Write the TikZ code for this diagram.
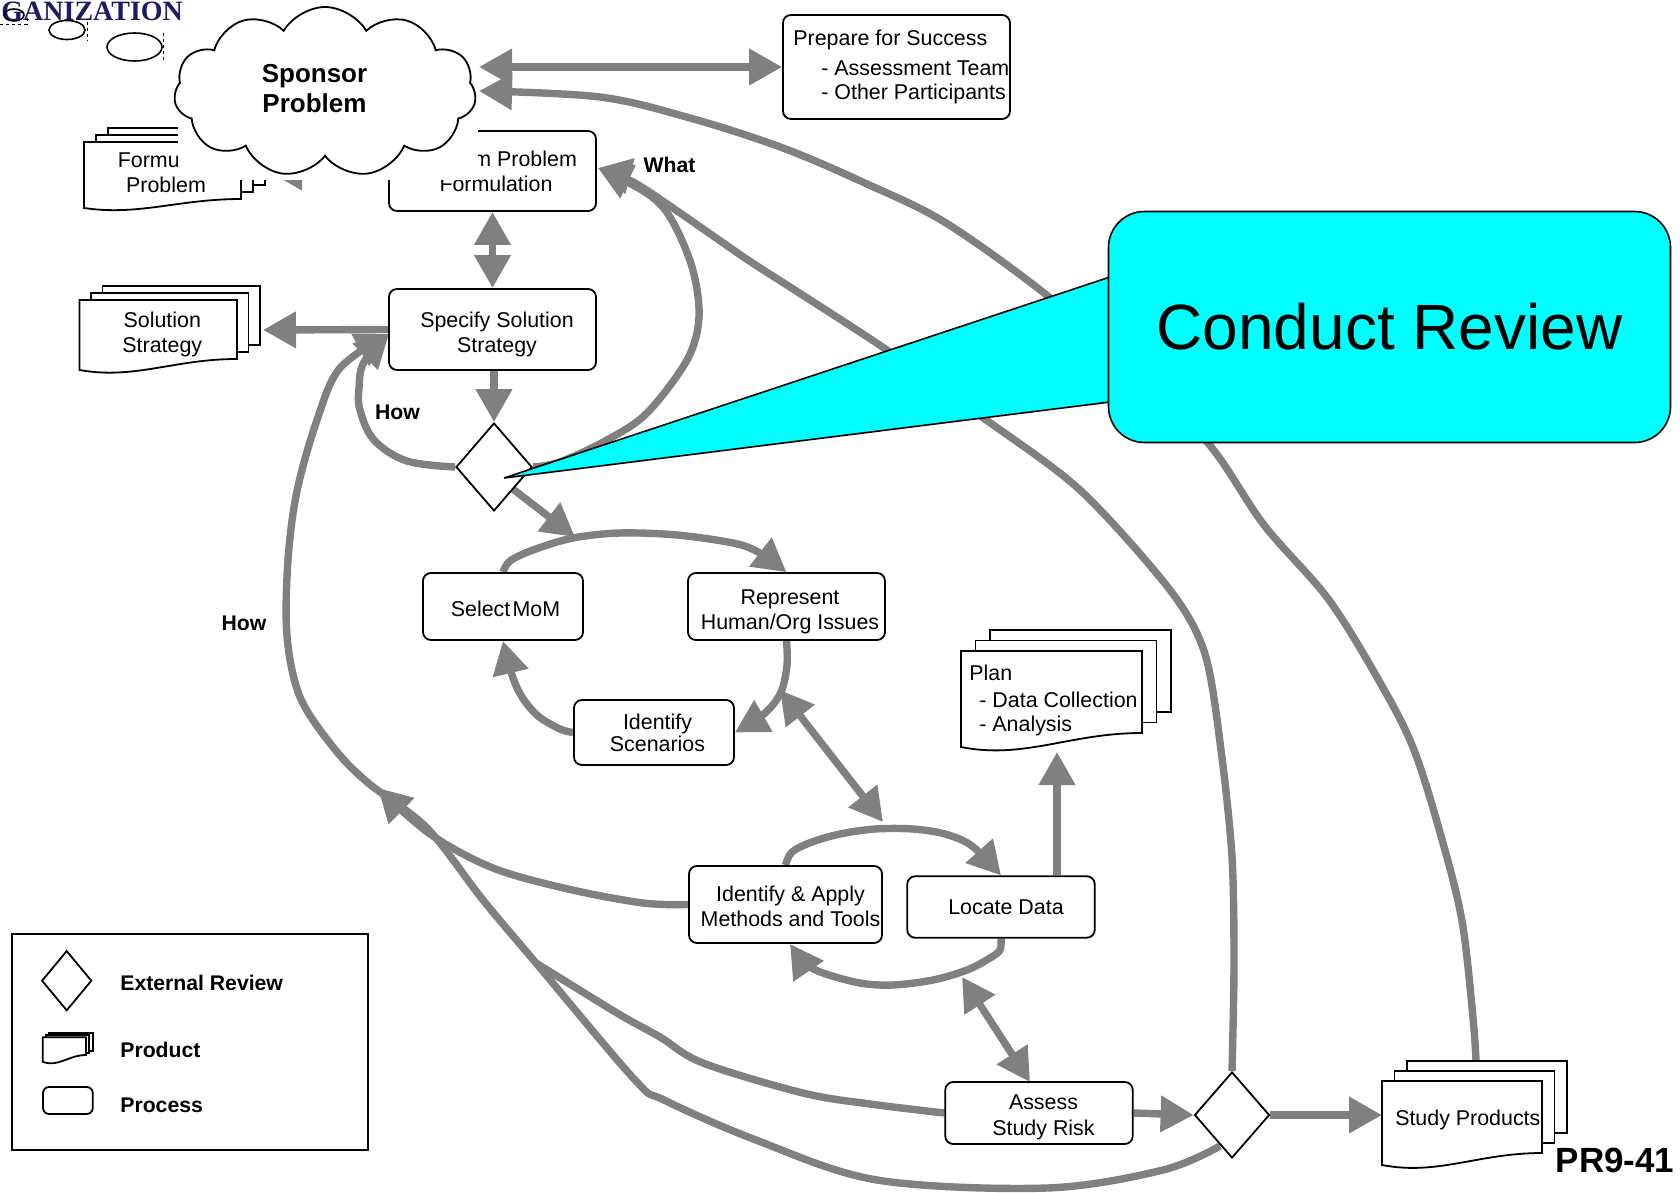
\documentclass[tikz,border=0pt]{standalone}
\usepackage{fontspec}
\setmainfont{Liberation Sans}
\newfontfamily\logofont{Liberation Serif}
\usetikzlibrary{arrows.meta,shapes.geometric,shapes.symbols,calc}
\pgfdeclarelayer{bg}
\pgfsetlayers{bg,main}

\definecolor{flowgray}{RGB}{128,128,128}
\definecolor{calloutcyan}{RGB}{0,255,255}
\definecolor{logonavy}{RGB}{28,28,100}

% Stack of three pages with a torn lower edge on the front page.
% #1,#2 top-left of front page, #3 right x, #4 bottom y at the left,
% #5,#6 offset of each page behind, #7 rise of the torn edge at the right.
\newcommand\pstack[7]{%
  \pgfmathsetmacro\pya{#4-#7}%
  \pgfmathsetmacro\pca{#1+0.6*(#3-#1)}%
  \pgfmathsetmacro\pcb{#1+0.35*(#3-#1)}%
  \pgfmathsetmacro\pcy{#4+0.9*#7}%
  \foreach \k in {2,1}{%
    \pgfmathsetmacro\pox{\k*#5}%
    \pgfmathsetmacro\poy{\k*#6}%
    \draw[page] (#1+\pox,#2+\poy) rectangle (#3+\pox,\pya+\poy);
  }%
  \draw[page] (#1,#2) -- (#3,#2) -- (#3,\pya) .. controls (\pca,\pya) and (\pcb,\pcy) .. (#1,#4) -- cycle;
}

\tikzset{
  proc/.style={draw, line width=0.9pt, rounded corners=4pt, fill=white, inner sep=0pt},
  page/.style={draw, line width=0.9pt, fill=white},
  gate/.style={diamond, draw, line width=0.9pt, fill=white, inner sep=0pt},
  conn/.style={draw=flowgray, line width=3.7pt, line join=round},
  lbl/.style={font=\bfseries\fontsize{10.6}{12}\selectfont, inner sep=0pt},
  ptxt/.style={font=\fontsize{10.7}{12.6}\selectfont, align=center, inner sep=0pt},
}

\begin{document}
\begin{tikzpicture}[x=0.5pt,y=-0.5pt,>={Triangle[length=16.5pt,width=17.5pt]}]
\path[use as bounding box] (0,0) rectangle (1680,1193);

% ---------- logo fragment and thought bubbles ----------
\node[anchor=base west, inner sep=0pt, text=logonavy,
      font=\logofont\bfseries\fontsize{14}{16}\selectfont] (logo) at (1,20.5) {GANIZATION};
\node[ellipse, draw, line width=0.8pt, minimum width=10pt, minimum height=6pt, inner sep=0pt] (bub1) at (14,15) {};
\node[ellipse, draw, fill=white, line width=0.8pt, minimum width=18pt, minimum height=9.5pt, inner sep=0pt] (bub2) at (67,30) {};
\node[ellipse, draw, fill=white, line width=0.8pt, minimum width=27.5pt, minimum height=14pt, inner sep=0pt] (bub3) at (134.5,47) {};
\draw[line width=0.3pt, dash pattern=on 1.5pt off 1.5pt] (0,24) -- (27,24) -- (27,16);
\draw[line width=0.3pt, dash pattern=on 1.5pt off 1.5pt] (87,22) -- (87,41);
\draw[line width=0.3pt, dash pattern=on 1.5pt off 1.5pt] (163,33) -- (163,62);

% ---------- process boxes and review points ----------
\node[proc, minimum width=103.5pt, minimum height=40pt] (form) at (492.5,171) {};
\node[ptxt] (formT) at (496,171) {Perform Problem\\Formulation};
\node[proc, minimum width=103.5pt, minimum height=40.5pt] (spec) at (492.5,329.5) {};
\node[ptxt] (specT) at (497,334.5) {Specify Solution\\Strategy};
\node[gate, minimum width=38pt, minimum height=44pt] (d1) at (494,467) {};
\node[proc, minimum width=80pt, minimum height=33.5pt] (sel) at (503,606.5) {};
\node[ptxt] (selT) at (505.5,608.6) {Select\hspace{0.1em}MoM};
\node[proc, minimum width=98.5pt, minimum height=33.5pt] (rep) at (786.5,606.5) {};
\node[ptxt] (repT) at (790,611.5) {Represent\\Human/Org Issues};
\node[proc, minimum width=80pt, minimum height=32.5pt] (scen) at (654,732.5) {};
\node[ptxt, font=\fontsize{10.7}{10.9}\selectfont] (scenT) at (657.5,733) {Identify\\Scenarios};
\node[proc, minimum width=96.5pt, minimum height=38.5pt] (ia) at (785.5,904.5) {};
\node[ptxt] (iaT) at (790.5,906) {Identify \& Apply\\Methods and Tools};
\node[proc, minimum width=93.75pt, minimum height=30.75pt] (loc) at (1001,907) {};
\node[ptxt] (locT) at (1006,907.5) {Locate Data};
\node[proc, minimum width=93.75pt, minimum height=31pt] (as) at (1039,1113) {};
\node[ptxt] (asT) at (1043.5,1117.3) {Assess\\Study Risk};
\node[gate, minimum width=37.5pt, minimum height=43pt] (d2) at (1232,1115) {};
\node[proc, minimum width=113.5pt, minimum height=52pt] (prep) at (896.5,67) {};
\node[anchor=north west, align=left, inner sep=0pt, font=\fontsize{10.7}{12}\selectfont] (preptxt) at (793,29.6)
  {Prepare for Success\\[3.2pt]\hspace*{14pt}- Assessment Team\\\hspace*{14pt}- Other Participants};

% ---------- products ----------
\pstack{84}{142}{241}{208}{12}{-7}{9}
\node[ptxt] (fpt) at (166,172.5) {Formulate\\Problem};
\pstack{79.5}{300}{237}{370}{11.5}{-7}{11}
\node[ptxt] (sst) at (162.3,334.5) {Solution\\Strategy};
\pstack{961}{651}{1142}{747}{14.5}{-10.5}{14}
\node[anchor=north west, align=left, inner sep=0pt, font=\fontsize{10.7}{12}\selectfont] (plan) at (969,665)
  {Plan\\[1.3pt]\hspace*{5pt}- Data Collection\\\hspace*{5pt}- Analysis};
\pstack{1382}{1081}{1542}{1165}{12.5}{-10}{12}
\node[ptxt] (spt) at (1467.8,1119.5) {Study Products};

\coordinate (fpTip) at (269,172);
\coordinate (ssTip) at (263,330);
\coordinate (planTip) at (1057,752);
\coordinate (spL) at (1382,1115);
\coordinate (spTop) at (1476,1061);

% ---------- sponsor cloud ----------
\fill[white] (178,26) rectangle (478,180);
\node[cloud, draw, fill=white, line width=0.9pt, cloud puffs=11, cloud puff arc=120, cloud ignores aspect,
      minimum width=151pt, minimum height=85pt, inner sep=0pt] (cloud) at (325,92) {};
\node[font=\bfseries\fontsize{13}{15}\selectfont, align=center, inner sep=0pt] (sponsor) at (314.5,89) {Sponsor\\Problem};
\coordinate (cl1) at (479,67);
\coordinate (cl2) at (479,91);

% ---------- labels ----------
\node[lbl] (how1) at (397.5,412.5) {How};
\node[lbl] (what) at (669.6,165) {What};
\node[lbl] (how2) at (244,623.6) {How};
\node[font=\bfseries\fontsize{17.5}{20}\selectfont, inner sep=0pt] (code) at (1615,1160) {PR9-41};

% ---------- free ends of connectors ----------
\coordinate (specHow) at (389,334);
\coordinate (d2lo) at (1220,1146);
\coordinate (hj) at (536,963);
\coordinate (howTip) at (378,788);
\coordinate (formWhat) at (598,168);
\coordinate (selLoop) at (575,537);
\coordinate (repLoop) at (780,690);
\coordinate (locLoop) at (883,822);
\coordinate (locLoop2) at (962,977);
\coordinate (asTop) at (1030,1082);
\coordinate (iaBot) at (790,944);

% ---------- connectors ----------
\begin{pgfonlayer}{bg}
\draw[conn,<->] (cl1) -- (prep.west);
\draw[conn,->] plot[smooth,tension=0.55] coordinates {(spTop) (1473,1018) (1462,921) (1441,836) (1414,750)
  (1382,686) (1329,600) (1264,525) (1207,442) (1128,370) (1049,297) (946,223) (867,184) (783,148) (690,118) (600,97) (cl2)};
\draw[conn,<->] (form.south) -- (spec.north);
\draw[conn,->] (spec.west) -- (ssTip);
\draw[conn,->] (d1.north |- spec.south) -- (d1.north);
\draw[conn,->] (form.west |- fpTip) -- (fpTip);
\draw[conn,->] plot[smooth,tension=0.6] coordinates {(d1.west) (407,461) (374,440) (360,410) (359,388) (364,362) (specHow)};
\draw[conn,->] plot[smooth,tension=0.55] coordinates {(d2lo) (1163,1170) (1047,1188) (877,1180) (756,1140) (664,1100)
  (635,1080) (hj) (483,900) (427,828) (367,782) (333,747) (300,697) (287,636) (288,560) (297,491) (317,420) (340,368) (specHow)};
\draw[conn] plot[smooth,tension=0.55] coordinates {(as.west) (870,1104) (803,1093) (703,1063) (660,1037) (617,1013) (hj)};
\draw[conn,->] plot[smooth,tension=0.55] coordinates {(ia.west) (643,903) (568,889) (493,868) (430,834) (howTip)};
\draw[conn,->] plot[smooth,tension=0.55] coordinates {(d1.east) (560,462) (607,440) (647,413) (687,360) (699,317)
  (692,267) (670,217) (645,192) (formWhat)};
\draw[conn,->] plot[smooth,tension=0.5] coordinates {(d2.north) (1234,964) (1232,857) (1221,750) (1205,654) (1170,590)
  (1080,490) (982,417) (884,348) (790,287) (745,258) (640,186) (formWhat)};
\draw[conn,->] (d1.south east) -- (selLoop);
\draw[conn,->] plot[smooth,tension=0.55] coordinates {(sel.north) (510,561) (533,550) (573,538) (620,533) (677,535)
  (733,543) (758,552) (rep.north)};
\draw[conn,->] plot[smooth,tension=0.55] coordinates {(rep.south) (787,665) (781,692) (765,713) (scen.east)};
\draw[conn,->] plot[smooth,tension=0.55] coordinates {(scen.west) (560,729) (538,716) (522,697) (512,675) (sel.south)};
\draw[conn,<->] (repLoop) -- (locLoop);
\draw[conn,->] plot[smooth,tension=0.55] coordinates {(ia.north) (792,852) (812,842) (840,834) (875,829) (913,829)
  (945,834) (972,846) (loc.north)};
\draw[conn,->] plot[smooth,tension=0.55] coordinates {(loc.south) (1000,950) (990,958) (967,970) (933,980) (893,985)
  (860,983) (823,973) (805,963) (iaBot)};
\draw[conn,<->] (locLoop2) -- (asTop);
\draw[conn,->] (planTip |- loc.north) -- (planTip);
\draw[conn,->] (as.east) -- (d2.west);
\draw[conn,->] (d2.east) -- (d2.east -| spL);
\end{pgfonlayer}

% ---------- call-out ----------
\coordinate (crTip) at (504,478);
\draw[line width=0.8pt, fill=calloutcyan] (crTip) -- (1110,277) -- (1110,402) -- cycle;
\node[draw, line width=0.8pt, fill=calloutcyan, rounded corners=18pt, minimum width=281pt, minimum height=115.5pt,
      font=\fontsize{32}{38}\selectfont] (cr) at (1389.5,327) {Conduct Review};

% ---------- legend ----------
\node[draw, line width=0.9pt, minimum width=178.15pt, minimum height=108pt, inner sep=0pt] (legend) at (189.85,1042) {};
\node[gate, minimum width=25pt, minimum height=30pt] (lgd) at (66.7,980.7) {};
\pstack{42.7}{1037.3}{86}{1061.7}{3.3}{-2}{6.7}
\node[proc, minimum width=24.85pt, minimum height=13.5pt, rounded corners=3pt] (lgp) at (67.9,1100.5) {};
\node[lbl, anchor=west] (lg1) at (120,983) {External Review};
\node[lbl, anchor=west] (lg2) at (120,1050) {Product};
\node[lbl, anchor=west] (lg3) at (120,1105) {Process};
\end{tikzpicture}
\end{document}
